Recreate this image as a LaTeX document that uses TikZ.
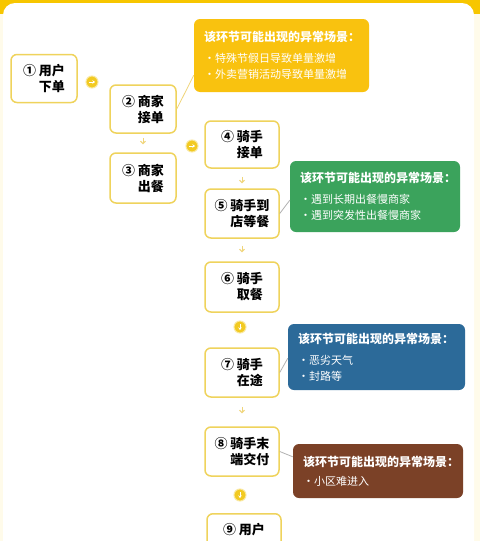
\documentclass[tikz,border=0pt]{standalone}
\usepackage{fontspec}
\setmainfont{Noto Sans CJK SC}
\usetikzlibrary{arrows.meta}
\definecolor{bgyellow}{HTML}{F7C600}
\definecolor{cream}{HTML}{FFFBEA}
\definecolor{boxline}{HTML}{EFD35C}
\definecolor{dotyellow}{HTML}{F2CA22}
\definecolor{arrowyellow}{HTML}{F0D57A}
\definecolor{cyellow}{HTML}{F9C20F}
\definecolor{cgreen}{HTML}{3BA35C}
\definecolor{cblue}{HTML}{2C6A99}
\definecolor{cbrown}{HTML}{7B4127}
\begin{document}
\begin{tikzpicture}[x=1pt,y=-1pt,
  box/.style={draw=boxline, line width=1.5pt, fill=white, rounded corners=6pt,
    font=\bfseries\fontsize{13}{16}\selectfont, align=right, inner sep=0pt},
  colbox/.style={box, minimum width=66pt},
  rbox/.style={box, minimum width=74pt},
  callout/.style={rounded corners=6pt, text=white, align=left, inner sep=0pt,
    font=\fontsize{11}{16}\selectfont},
  dot/.style={circle, fill=dotyellow, draw=dotyellow!45, line width=1pt, minimum size=12pt, inner sep=0pt},
  dotright/.style={dot, path picture={\draw[white, line width=1pt, -{Stealth[length=2.5pt,width=3.5pt]}]
      ([xshift=-3pt]path picture bounding box.center) -- ([xshift=3pt]path picture bounding box.center);}},
  dotdown/.style={dot, path picture={\draw[white, line width=1pt, -{Stealth[length=2.5pt,width=3.5pt]}]
      ([yshift=3pt]path picture bounding box.center) -- ([yshift=-3pt]path picture bounding box.center);}},
  sarrow/.style={draw=arrowyellow, line width=0.9pt, -{Straight Barb[length=2.5pt,width=5pt]}},
  link/.style={draw=#1, line width=0.8pt}
]
\useasboundingbox (0,0) rectangle (480,541);
\fill[cream] (0,0) rectangle (480,541);
\fill[bgyellow] (0,0) rectangle (480,14);
\fill[white, rounded corners=12pt] (3,3) rectangle (474,620);

% step boxes
\node[colbox, minimum height=48pt] (b1) at (44,78.5) {① 用户\\下单};
\node[colbox, minimum height=48pt] (b2) at (143,109) {② 商家\\接单};
\node[colbox, minimum height=50pt] (b3) at (143,178) {③ 商家\\出餐};
\node[rbox, minimum height=47pt] (b4) at (242,144.5) {④ 骑手\\接单};
\node[rbox, minimum height=49pt] (b5) at (242,213.5) {⑤ 骑手到\\店等餐};
\node[rbox, minimum height=50pt] (b6) at (242,287) {⑥ 骑手\\取餐};
\node[rbox, minimum height=49pt] (b7) at (242,372.5) {⑦ 骑手\\在途};
\node[rbox, minimum height=49pt] (b8) at (242,451.5) {⑧ 骑手末\\端交付};
\node[rbox, minimum height=48pt, anchor=north] (b9) at (244,513) {⑨ 用户\\\phantom{用户}};

% circle markers
\node[dotright] (d1) at (92,82) {};
\node[dotright] (d2) at (192,146) {};
\node[dotdown] (d3) at (240,327) {};
\node[dotdown] (d4) at (240,495) {};

% small arrows
\draw[sarrow, shorten <=4pt, shorten >=8pt] (b2) -- (b3);
\draw[sarrow, shorten <=8pt, shorten >=5pt] (b4) -- (b5);
\draw[sarrow, shorten <=7pt, shorten >=9pt] (b5) -- (b6);
\draw[sarrow, shorten <=9pt, shorten >=13pt] (b7) -- (b8);

% callouts
\node[callout, fill=cyellow, minimum width=175pt, minimum height=73pt, text width=155pt] (c1) at (281.5,55.5)
  {{\bfseries\fontsize{12}{14}\selectfont 该环节可能出现的异常场景：}\\[5pt]·特殊节假日导致单量激增\\·外卖营销活动导致单量激增};
\node[callout, fill=cgreen, minimum width=170pt, minimum height=71pt, text width=150pt] (c2) at (375,196.5)
  {{\bfseries\fontsize{12}{14}\selectfont 该环节可能出现的异常场景：}\\[5pt]·遇到长期出餐慢商家\\·遇到突发性出餐慢商家};
\node[callout, fill=cblue, minimum width=177pt, minimum height=66pt, text width=157pt] (c3) at (376.5,357)
  {{\bfseries\fontsize{12}{14}\selectfont 该环节可能出现的异常场景：}\\[5pt]·恶劣天气\\·封路等};
\node[callout, fill=cbrown, minimum width=170pt, minimum height=54pt, text width=150pt] (c4) at (378,471)
  {{\bfseries\fontsize{12}{14}\selectfont 该环节可能出现的异常场景：}\\[3pt]·小区难进入};

% links
\draw[link=arrowyellow] (b2.east) -- ([yshift=17pt]c1.south west);
\draw[link=gray!60] (b5.east) -- ([yshift=32pt]c2.south west);
\draw[link=gray!60] (b7.east) -- ([yshift=32pt]c3.south west);
\draw[link=gray!60] (b8.east) -- ([yshift=-13pt]c4.north west);
\end{tikzpicture}
\end{document}
